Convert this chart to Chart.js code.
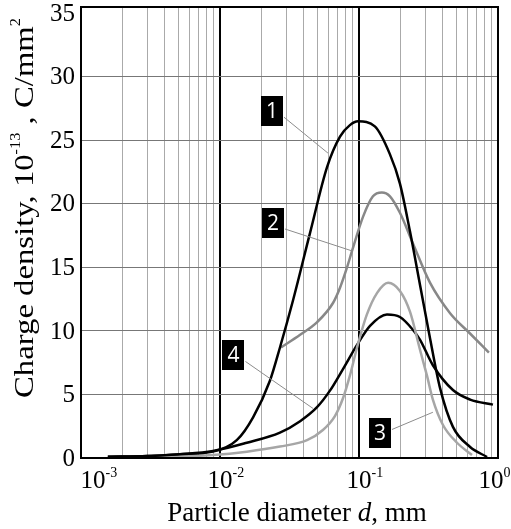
<!DOCTYPE html>
<html>
<head>
<meta charset="utf-8">
<script src="https://cdn.jsdelivr.net/npm/chart.js@4.4.1/dist/chart.umd.min.js"></script>
<style>
  html, body { margin: 0; padding: 0; background: #fff; }
  #wrap { width: 511px; height: 529px; }
</style>
</head>
<body>
<div id="wrap"><canvas id="myChart" width="511" height="529"></canvas></div>
<script>
const ctx = document.getElementById("myChart");

// Particle diameter (mm) and charge density (10^-13 C/mm^2) for each curve
const d1 = [0.00156, 0.003, 0.00515, 0.0089, 0.0132, 0.0173, 0.0229, 0.027, 0.0335, 0.0444, 0.0589, 0.073, 0.086, 0.0984, 0.13, 0.167, 0.197, 0.233, 0.275, 0.324, 0.383, 0.474, 0.63, 0.834];
const q1 = [0.1, 0.15, 0.3, 0.5, 1.4, 3.2, 6.1, 8.7, 12.4, 17.7, 22.9, 25.3, 26.2, 26.5, 26.1, 23.9, 21.6, 17.8, 13.6, 9.45, 5.5, 2.45, 0.87, 0.08];

const d2 = [0.0275, 0.0377, 0.05, 0.065, 0.073, 0.082, 0.0891, 0.107, 0.126, 0.146, 0.167, 0.197, 0.244, 0.324, 0.452, 0.629, 0.86];
const q2 = [8.7, 9.7, 10.7, 12.2, 13.4, 15.0, 16.3, 19.0, 20.6, 20.9, 20.6, 19.3, 16.9, 13.8, 11.4, 9.8, 8.3];

const d3 = [0.0031, 0.0089, 0.0156, 0.027, 0.0423, 0.055, 0.0671, 0.0767, 0.0861, 0.0968, 0.114, 0.135, 0.162, 0.197, 0.233, 0.275, 0.308, 0.34, 0.402, 0.507, 0.65];
const q3 = [0.05, 0.24, 0.5, 0.9, 1.4, 2.2, 3.3, 4.7, 6.5, 8.7, 11.3, 13.0, 13.8, 13.15, 11.5, 8.5, 6.5, 4.6, 2.6, 1.2, 0.24];

const d4 = [0.00156, 0.003, 0.00515, 0.0089, 0.0156, 0.027, 0.0377, 0.0499, 0.0618, 0.0767, 0.0968, 0.12, 0.159, 0.197, 0.244, 0.275, 0.34, 0.474, 0.63, 0.92];
const q4 = [0.1, 0.15, 0.3, 0.55, 1.2, 2.0, 2.9, 4.0, 5.3, 7.0, 8.9, 10.4, 11.3, 11.1, 10.1, 9.3, 7.3, 5.35, 4.6, 4.2];

// Axis ticks
const yTicks = [0, 5, 10, 15, 20, 25, 30, 35];
const xDecades = [-3, -2, -1, 0];

// Curve number tags: box centre and end of the leader line (data coords)
const tagNames = ["1", "2", "3", "4"];
const tagX = [0.02366, 0.02404, 0.1416, 0.0125];
const tagY = [27.3, 18.5, 1.93, 8.07];
const leadX = [0.0598, 0.0891, 0.34, 0.0467];
const leadY = [24.0, 16.3, 3.6, 3.9];

function toPoints(xs, ys) {
  return xs.map((x, i) => ({ x: x, y: ys[i] }));
}

// all grid positions on the log axis: 1..9 x 10^n
const xGrid = [];
xDecades.forEach((e) => {
  for (let m = 1; m <= 9; m++) {
    if (e === 0 && m > 1) break;
    xGrid.push(Number((m * Math.pow(10, e)).toPrecision(3)));
  }
});

const serif = '"Liberation Serif", "Times New Roman", serif';

// draw a run of text pieces (regular / italic / superscript) starting at x
function drawParts(c, parts, x, y) {
  let cx = x;
  parts.forEach((p) => {
    c.font = p.font;
    c.fillText(p.t, cx, y + (p.dy || 0));
    cx += c.measureText(p.t).width;
  });
  return cx;
}

function partsWidth(c, parts) {
  let w = 0;
  parts.forEach((p) => {
    c.font = p.font;
    w += c.measureText(p.t).width;
  });
  return w;
}

const decorations = {
  id: "decorations",
  afterDatasetsDraw(chart) {
    const c = chart.ctx;
    const area = chart.chartArea;
    const xs = chart.scales.x;
    const ys = chart.scales.y;

    // leader lines and number tags
    c.save();
    c.strokeStyle = "#8c8c8c";
    c.lineWidth = 1;
    tagNames.forEach((name, i) => {
      const bx = xs.getPixelForValue(tagX[i]);
      const by = ys.getPixelForValue(tagY[i]);
      const lx = xs.getPixelForValue(leadX[i]);
      const ly = ys.getPixelForValue(leadY[i]);
      const sx = lx > bx ? bx + 12 : bx - 12;
      c.beginPath();
      c.moveTo(sx, by + (ly > by ? 6 : -4));
      c.lineTo(lx, ly);
      c.stroke();
    });
    tagNames.forEach((name, i) => {
      const bx = xs.getPixelForValue(tagX[i]);
      const by = ys.getPixelForValue(tagY[i]);
      c.fillStyle = "#000";
      c.fillRect(Math.round(bx - 11), Math.round(by - 15), 22, 30);
      c.fillStyle = "#fff";
      c.font = '21px "Open Sans", sans-serif';
      c.textAlign = "center";
      c.textBaseline = "middle";
      c.fillText(name, bx, by + 1);
    });
    c.restore();

    // plot frame
    c.save();
    c.strokeStyle = "#000";
    c.lineWidth = 2;
    c.strokeRect(area.left, area.top, area.right - area.left, area.bottom - area.top);
    c.restore();

    // y tick labels
    c.save();
    c.fillStyle = "#000";
    c.font = "25px " + serif;
    c.textAlign = "right";
    c.textBaseline = "middle";
    yTicks.forEach((v) => {
      c.fillText(String(v), area.left - 6, ys.getPixelForValue(v) + 1);
    });
    c.restore();

    // x tick labels: 10 with superscript exponent
    c.save();
    c.fillStyle = "#000";
    c.textAlign = "left";
    c.textBaseline = "alphabetic";
    xDecades.forEach((e, i) => {
      let px = xs.getPixelForValue(Math.pow(10, e));
      if (i === 0) px += 12;
      if (i === xDecades.length - 1) px -= 7;
      c.font = "25px " + serif;
      const w10 = c.measureText("10").width;
      drawParts(c, [
        { t: "10", font: "25px " + serif },
        { t: e < 0 ? "-" + Math.abs(e) : "0", font: "14px " + serif, dy: -11 },
      ], px - w10 / 2, 488);
    });
    c.restore();

    // x axis title
    c.save();
    c.fillStyle = "#000";
    const xt = [
      { t: "Particle diameter ", font: "27px " + serif },
      { t: "d", font: "italic 27px " + serif },
      { t: ", mm", font: "27px " + serif },
    ];
    drawParts(c, xt, 297 - partsWidth(c, xt) / 2, 521);
    c.restore();

    // y axis title, rotated and slightly widened
    c.save();
    c.fillStyle = "#000";
    const yt = [
      { t: "Charge density, 10", font: "28px " + serif },
      { t: "-13", font: "14px " + serif, dy: -13 },
      { t: " , C/mm", font: "28px " + serif },
      { t: "2", font: "14px " + serif, dy: -13 },
    ];
    const ytw = partsWidth(c, yt);
    const stretch = 380 / ytw;
    c.translate(33, 208);
    c.rotate(-Math.PI / 2);
    c.scale(stretch, 1);
    drawParts(c, yt, -ytw / 2, 0);
    c.restore();
  },
};

const lineStyle = {
  borderWidth: 2.5,
  pointRadius: 0,
  fill: false,
  cubicInterpolationMode: "monotone",
};

const config = {
  type: "line",
  data: {
    datasets: [
      { ...lineStyle, data: toPoints(d1, q1), borderColor: "#000" },
      { ...lineStyle, data: toPoints(d2, q2), borderColor: "#888" },
      { ...lineStyle, data: toPoints(d3, q3), borderColor: "#a6a6a6" },
      { ...lineStyle, data: toPoints(d4, q4), borderColor: "#000" },
    ],
  },
  options: {
    responsive: false,
    animation: false,
    layout: { padding: { left: 81, top: 7, right: 13, bottom: 71 } },
    plugins: { legend: { display: false }, tooltip: { enabled: false } },
    scales: {
      x: {
        type: "logarithmic",
        min: 0.001,
        max: 1,
        afterBuildTicks: (scale) => {
          scale.ticks = xGrid.map((v) => ({ value: v }));
        },
        ticks: { display: false },
        border: { display: false },
        grid: {
          drawTicks: false,
          color: (c) => {
            const v = c.tick.value;
            if (v === 0.01 || v === 0.1) return "#000";
            if (v === 0.001 || v === 1) return "rgba(0,0,0,0)";
            return "#aaa";
          },
          lineWidth: (c) => {
            const v = c.tick.value;
            return v === 0.01 || v === 0.1 ? 2 : 1;
          },
        },
      },
      y: {
        min: 0,
        max: 35.5,
        afterBuildTicks: (scale) => {
          scale.ticks = yTicks.map((v) => ({ value: v }));
        },
        ticks: { display: false },
        border: { display: false },
        grid: {
          drawTicks: false,
          color: (c) => {
            const v = c.tick.value;
            return v === 0 || v === 35 ? "rgba(0,0,0,0)" : "#777";
          },
        },
      },
    },
  },
  plugins: [decorations],
};

const myChart = new Chart(ctx, config);
</script>
</body>
</html>
